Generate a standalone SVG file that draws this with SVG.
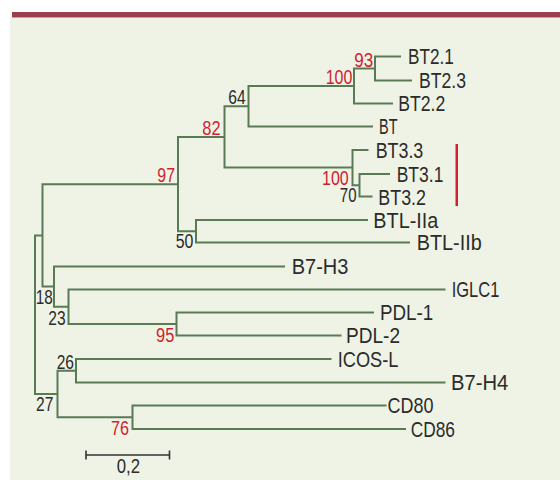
<svg xmlns="http://www.w3.org/2000/svg" width="560" height="480" viewBox="0 0 560 480">
<style>
.leaf{font-family:"Liberation Sans",Arial,sans-serif;font-size:21.5px;fill:#2b2b2b}
.bs{font-family:"Liberation Sans",Arial,sans-serif;font-size:20.5px;fill:#2b2b2b}
.red{fill:#d11f2f}
.br{fill:none;stroke:#5a7a55;stroke-width:2;stroke-linejoin:miter}
</style>
<rect x="0" y="0" width="560" height="480" fill="#ffffff"/>
<rect x="10" y="17" width="550" height="463" fill="#eef3e6"/>
<rect x="12" y="12" width="548" height="5" fill="#993f4e"/>
<rect x="12" y="17" width="548" height="1" fill="#c9a3a6"/>
<g id="connectors">
<path class="br" d="M401,56.5 H375 V80.5 H412"/>
<path class="br" d="M375,68.5 H354 V103.5 H393"/>
<path class="br" d="M354,86 H248.5 V126.5 H373"/>
<path class="br" d="M390,174 H359.5 V196.5 H372.5"/>
<path class="br" d="M368.5,150 H352.5 V185.3 H359.5"/>
<path class="br" d="M248.5,106.3 H224.5 V167.6 H352.5"/>
<path class="br" d="M368,220 H196 V242.5 H410"/>
<path class="br" d="M224.5,137 H178 V231.3 H196"/>
<path class="br" d="M374,312.5 H176.5 V335.5 H341.5"/>
<path class="br" d="M445.5,289.5 H68.5 V324 H176.5"/>
<path class="br" d="M285,266.5 H54 V306.8 H68.5"/>
<path class="br" d="M178,184.2 H42.5 V286.6 H54"/>
<path class="br" d="M331.5,359 H76 V382.5 H445.5"/>
<path class="br" d="M386.5,405.5 H132.5 V429 H406"/>
<path class="br" d="M76,370.8 H57.5 V417.3 H132.5"/>
<path class="br" d="M42.5,235.4 H35 V394 H57.5"/>
</g>
<g id="leaf-BT2.1"><text class="leaf" x="408" y="64.3" textLength="45.7" lengthAdjust="spacingAndGlyphs">BT2.1</text></g>
<g id="leaf-BT2.3"><text class="leaf" x="419" y="88.3" textLength="47" lengthAdjust="spacingAndGlyphs">BT2.3</text></g>
<g id="leaf-BT2.2"><text class="leaf" x="398.3" y="111.3" textLength="47" lengthAdjust="spacingAndGlyphs">BT2.2</text></g>
<g id="leaf-BT"><text class="leaf" x="379" y="134.3" textLength="18.5" lengthAdjust="spacingAndGlyphs">BT</text></g>
<g id="leaf-BT3.3"><text class="leaf" x="375.7" y="158.3" textLength="47.6" lengthAdjust="spacingAndGlyphs">BT3.3</text></g>
<g id="leaf-BT3.1"><text class="leaf" x="396.7" y="182.3" textLength="46.7" lengthAdjust="spacingAndGlyphs">BT3.1</text></g>
<g id="leaf-BT3.2"><text class="leaf" x="378.3" y="204.8" textLength="47.7" lengthAdjust="spacingAndGlyphs">BT3.2</text></g>
<g id="leaf-BTL-IIa"><text class="leaf" x="373.3" y="227.8" textLength="65" lengthAdjust="spacingAndGlyphs">BTL-IIa</text></g>
<g id="leaf-BTL-IIb"><text class="leaf" x="416.7" y="250.3" textLength="65" lengthAdjust="spacingAndGlyphs">BTL-IIb</text></g>
<g id="leaf-B7-H3"><text class="leaf" x="291.7" y="274.2" textLength="56.7" lengthAdjust="spacingAndGlyphs">B7-H3</text></g>
<g id="leaf-IGLC1"><text class="leaf" x="451.7" y="297.2" textLength="47.7" lengthAdjust="spacingAndGlyphs">IGLC1</text></g>
<g id="leaf-PDL-1"><text class="leaf" x="380" y="320.2" textLength="53.3" lengthAdjust="spacingAndGlyphs">PDL-1</text></g>
<g id="leaf-PDL-2"><text class="leaf" x="346" y="343.2" textLength="54" lengthAdjust="spacingAndGlyphs">PDL-2</text></g>
<g id="leaf-ICOS-L"><text class="leaf" x="337.7" y="366.7" textLength="60.7" lengthAdjust="spacingAndGlyphs">ICOS-L</text></g>
<g id="leaf-B7-H4"><text class="leaf" x="451" y="390.2" textLength="57.3" lengthAdjust="spacingAndGlyphs">B7-H4</text></g>
<g id="leaf-CD80"><text class="leaf" x="387.5" y="413.2" textLength="46" lengthAdjust="spacingAndGlyphs">CD80</text></g>
<g id="leaf-CD86"><text class="leaf" x="410.7" y="436.7" textLength="44.3" lengthAdjust="spacingAndGlyphs">CD86</text></g>
<g id="node-93"><text class="bs red" x="354.3" y="66.7" textLength="19" lengthAdjust="spacingAndGlyphs">93</text></g>
<g id="node-100a"><text class="bs red" x="325.7" y="84.3" textLength="26.7" lengthAdjust="spacingAndGlyphs">100</text></g>
<g id="node-64"><text class="bs" x="228.3" y="104" textLength="17.3" lengthAdjust="spacingAndGlyphs">64</text></g>
<g id="node-82"><text class="bs red" x="202.3" y="135" textLength="18.3" lengthAdjust="spacingAndGlyphs">82</text></g>
<g id="node-97"><text class="bs red" x="157.3" y="182.3" textLength="17.7" lengthAdjust="spacingAndGlyphs">97</text></g>
<g id="node-100b"><text class="bs red" x="322" y="184.8" textLength="26.7" lengthAdjust="spacingAndGlyphs">100</text></g>
<g id="node-70"><text class="bs" x="339.8" y="202" textLength="16.7" lengthAdjust="spacingAndGlyphs">70</text></g>
<g id="node-50"><text class="bs" x="175.7" y="248.3" textLength="17.7" lengthAdjust="spacingAndGlyphs">50</text></g>
<g id="node-18"><text class="bs" x="35.7" y="304" textLength="17" lengthAdjust="spacingAndGlyphs">18</text></g>
<g id="node-23"><text class="bs" x="48.3" y="325" textLength="17.3" lengthAdjust="spacingAndGlyphs">23</text></g>
<g id="node-95"><text class="bs red" x="156" y="341.7" textLength="18.3" lengthAdjust="spacingAndGlyphs">95</text></g>
<g id="node-26"><text class="bs" x="56.7" y="369.3" textLength="17.3" lengthAdjust="spacingAndGlyphs">26</text></g>
<g id="node-27"><text class="bs" x="36" y="411" textLength="17.3" lengthAdjust="spacingAndGlyphs">27</text></g>
<g id="node-76"><text class="bs red" x="111" y="435" textLength="18" lengthAdjust="spacingAndGlyphs">76</text></g>
<g id="bt3-marker"><rect x="455.5" y="144" width="2.5" height="62" fill="#d11f2f"/></g>
<g id="scale-bar">
<path d="M86,455 H169.5 M86,450.5 V459.5 M169.5,450.5 V459.5" fill="none" stroke="#333333" stroke-width="1.6"/>
<text class="bs" x="116.7" y="473.3" textLength="23.3" lengthAdjust="spacingAndGlyphs">0,2</text>
</g>
</svg>
